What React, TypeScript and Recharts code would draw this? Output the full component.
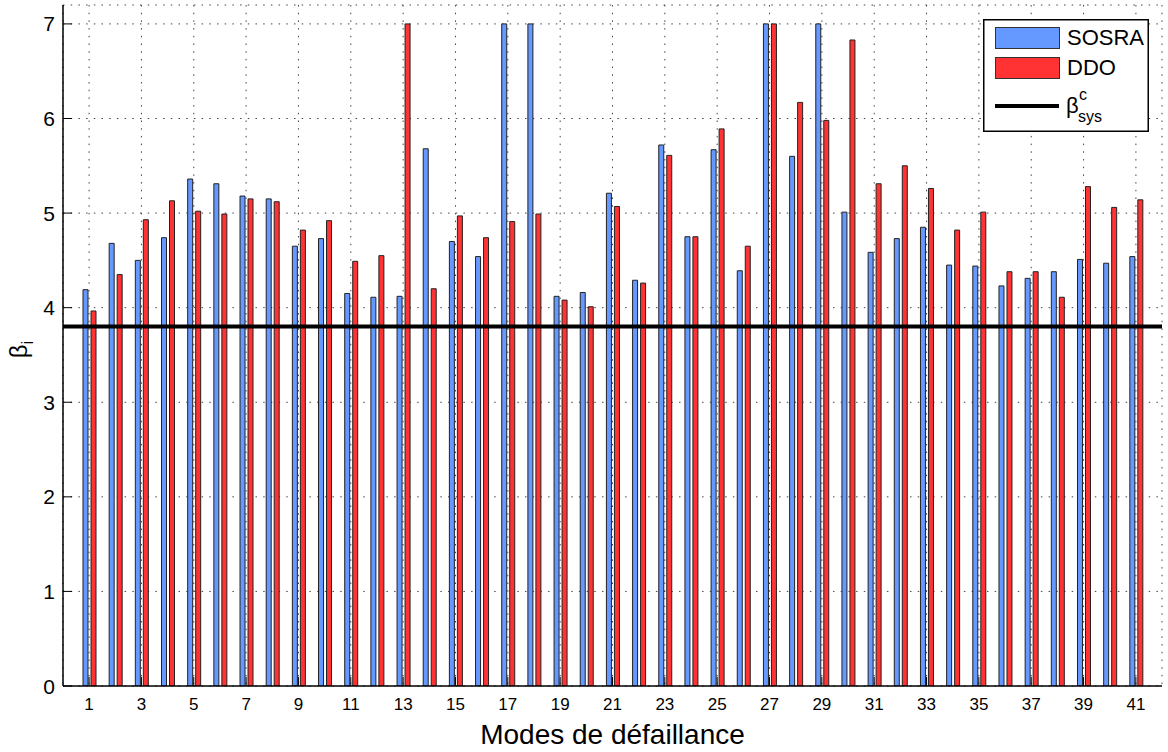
import {
  BarChart,
  Bar,
  XAxis,
  YAxis,
  CartesianGrid,
  ReferenceLine,
  Legend,
  Label,
} from 'recharts';

const MODES = [
  1, 2, 3, 4, 5, 6, 7, 8, 9, 10, 11, 12, 13, 14, 15, 16, 17, 18, 19, 20, 21,
  22, 23, 24, 25, 26, 27, 28, 29, 30, 31, 32, 33, 34, 35, 36, 37, 38, 39, 40, 41,
];

const SOSRA = [
  4.19, 4.68, 4.5, 4.74, 5.36, 5.31, 5.18, 5.15, 4.65, 4.73, 4.15, 4.11, 4.12,
  5.68, 4.7, 4.54, 7, 7, 4.12, 4.16, 5.21, 4.29, 5.72, 4.75, 5.67, 4.39, 7,
  5.6, 7, 5.01, 4.585, 4.73, 4.85, 4.45, 4.44, 4.23, 4.31, 4.38, 4.51, 4.47, 4.54,
];

const DDO = [
  3.965, 4.35, 4.93, 5.13, 5.02, 4.99, 5.15, 5.12, 4.82, 4.92, 4.49, 4.55, 7,
  4.2, 4.97, 4.74, 4.91, 4.99, 4.08, 4.01, 5.07, 4.26, 5.61, 4.75, 5.89, 4.65, 7,
  6.17, 5.98, 6.83, 5.31, 5.5, 5.26, 4.82, 5.01, 4.38, 4.38, 4.11, 5.28, 5.06, 5.14,
];

const Y_TICKS = [0, 1, 2, 3, 4, 5, 6, 7];
const BETA_SYS = 3.8;

const BLUE = '#6699ff';
const RED = '#ff3333';
const FONT = '"Liberation Sans", Arial, Helvetica, sans-serif';
const TICK_LEN = 9;

const data = MODES.map((m, i) => ({ mode: m, sosra: SOSRA[i], ddo: DDO[i] }));

// left axis: label + inward tick mark
const LeftTick = (props: any) => {
  const { x, y, payload } = props;
  const axisX = x + 8;
  return (
    <g>
      <line x1={axisX} x2={axisX + TICK_LEN} y1={y} y2={y} stroke="#000" strokeWidth={1} />
      <text x={x} y={y} dy="0.36em" textAnchor="end" fontSize={21} fontFamily={FONT} fill="#000">
        {payload.value}
      </text>
    </g>
  );
};

const BottomTick = (props: any) => {
  const { x, y, payload, index } = props;
  const axisY = y - 12;
  return (
    <g>
      <line x1={x} x2={x} y1={axisY} y2={axisY - TICK_LEN} stroke="#000" strokeWidth={1} />
      <text x={x} y={y} dy="0.71em" textAnchor="middle" fontSize={17} fontFamily={FONT} fill="#000">
        {payload.value}
      </text>
    </g>
  );
};

const TopTick = (props: any) => {
  const { x, y } = props;
  return <line x1={x} x2={x} y1={y} y2={y + TICK_LEN} stroke="#000" strokeWidth={1} />;
};

const RightTick = (props: any) => {
  const { x, y } = props;
  return <line x1={x} x2={x - TICK_LEN} y1={y} y2={y} stroke="#000" strokeWidth={1} />;
};

const YTitle = (props: any) => {
  const { viewBox } = props;
  const x = viewBox.x + 27;
  const y = viewBox.y + viewBox.height / 2 + 4;
  return (
    <text transform={`rotate(-90 ${x} ${y})`} x={x} y={y} textAnchor="middle" fontSize={24} fontFamily={FONT} fill="#000">
      β<tspan fontSize={17} dy={6}>i</tspan>
    </text>
  );
};

const LegendBox = () => (
  <svg width={166} height={113} style={{ display: 'block', fontFamily: FONT }}>
    <rect x={0.75} y={0.75} width={164.5} height={111.5} fill="#fff" stroke="#000" strokeWidth={1.5} />
    <rect x={12.5} y={8.5} width={64} height={21} fill={BLUE} stroke="#333" strokeWidth={1} />
    <text x={84} y={26} fontSize={22} fill="#000">SOSRA</text>
    <rect x={12.5} y={38.5} width={64} height={21} fill={RED} stroke="#333" strokeWidth={1} />
    <text x={84} y={56} fontSize={22} fill="#000">DDO</text>
    <line x1={12} x2={76} y1={87} y2={87} stroke="#000" strokeWidth={4} />
    <text x={83} y={94} fontSize={22} fill="#000">β</text>
    <text x={96} y={81} fontSize={16} fill="#000">c</text>
    <text x={95} y={103} fontSize={16} fill="#000">sys</text>
  </svg>
);

export default function App() {
  return (
    <div style={{ position: 'absolute', left: 0, top: 0, background: '#fff' }}>
      <BarChart
        width={1168}
        height={752}
        data={data}
        margin={{ top: 5, right: 6, left: 0, bottom: 0 }}
        barSize={5}
        barGap={3}
      >
        <CartesianGrid
          stroke="#444"
          strokeDasharray="1.5 6.2"
          strokeWidth={1}
          verticalPoints={undefined}
        />
        <XAxis
          dataKey="mode"
          height={66}
          interval={1}
          padding={{ left: 13, right: 13 }}
          tickSize={0}
          tickMargin={12}
          tick={<BottomTick />}
          axisLine={{ stroke: '#000', strokeWidth: 1.5 }}
        >
          <Label
            value="Modes de défaillance"
            position="insideBottom"
            offset={8}
            style={{ fontSize: 28, fontFamily: FONT, fill: '#000' }}
          />
        </XAxis>
        <XAxis
          xAxisId="top"
          dataKey="mode"
          orientation="top"
          height={0}
          interval={1}
          padding={{ left: 13, right: 13 }}
          tickSize={0}
          tickMargin={0}
          tick={<TopTick />}
          axisLine={{ stroke: '#000', strokeWidth: 1 }}
        />
        <YAxis
          width={63}
          type="number"
          domain={[0, 7.2]}
          ticks={Y_TICKS}
          allowDataOverflow
          tickSize={0}
          tickMargin={8}
          tick={<LeftTick />}
          axisLine={{ stroke: '#000', strokeWidth: 1.5 }}
        >
          <Label content={<YTitle />} />
        </YAxis>
        <YAxis
          yAxisId="right"
          orientation="right"
          width={0}
          type="number"
          domain={[0, 7.2]}
          ticks={Y_TICKS}
          allowDataOverflow
          tickSize={0}
          tickMargin={0}
          tick={<RightTick />}
          axisLine={{ stroke: '#000', strokeWidth: 1 }}
        />
        <Bar dataKey="sosra" name="SOSRA" fill={BLUE} stroke="#222" strokeWidth={1} isAnimationActive={false} />
        <Bar dataKey="ddo" name="DDO" fill={RED} stroke="#222" strokeWidth={1} isAnimationActive={false} />
        <ReferenceLine y={BETA_SYS} stroke="#000" strokeWidth={4} />
        <Legend
          layout="vertical"
          align="center"
          verticalAlign="middle"
          content={<LegendBox />}
          wrapperStyle={{ position: 'absolute', left: 983, top: 19, width: 166, height: 113 }}
        />
      </BarChart>
    </div>
  );
}
